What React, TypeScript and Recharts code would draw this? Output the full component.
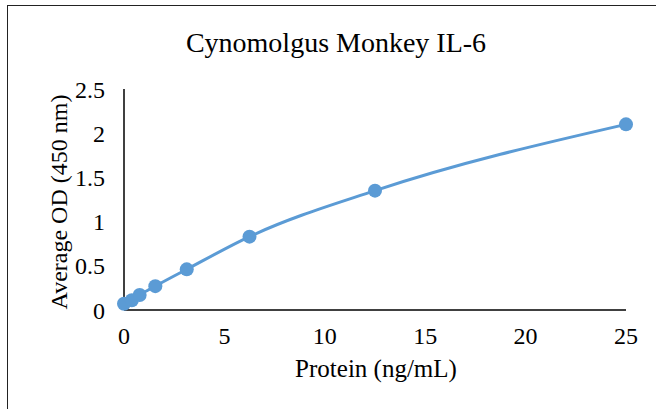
import React from 'react';
import { LineChart, Line, XAxis, YAxis } from 'recharts';

const proteinConc = [0, 0.39, 0.78, 1.56, 3.125, 6.25, 12.5, 25];
const avgOD = [0.07, 0.11, 0.17, 0.27, 0.46, 0.83, 1.35, 2.1];
const xTicks = [0, 5, 10, 15, 20, 25];
const yTicks = [0, 0.5, 1, 1.5, 2, 2.5];

const data = proteinConc.map((c, i) => ({ conc: c, od: avgOD[i] }));

const font = '"Liberation Serif", serif';
const blue = '#5B9BD5';

const App: React.FC = () => {
  return (
    <div style={{ position: 'absolute', left: 0, top: 0, width: 656, height: 409, background: '#fff', overflow: 'hidden' }}>
      {/* chart frame */}
      <div style={{ position: 'absolute', left: 7, top: 5, width: 700, height: 450, border: '1px solid #222', boxSizing: 'border-box' }} />
      <div style={{ position: 'absolute', left: 0, top: 0 }}>
        <LineChart width={656} height={409} data={data} margin={{ top: 89, right: 30, bottom: 69, left: 64 }}>
          <XAxis
            dataKey="conc"
            type="number"
            domain={[0, 25]}
            ticks={xTicks}
            axisLine={{ stroke: '#000', strokeWidth: 1.5 }}
            tickLine={false}
            tickMargin={11}
            height={30}
            tick={{ fill: '#000', fontSize: 24, fontFamily: font }}
          />
          <YAxis
            type="number"
            domain={[0, 2.5]}
            ticks={yTicks}
            width={60}
            axisLine={{ stroke: '#000', strokeWidth: 1.5 }}
            tickLine={false}
            tickMargin={13}
            tick={{ fill: '#000', fontSize: 24, fontFamily: font }}
          />
          <Line
            type="monotone"
            dataKey="od"
            stroke={blue}
            strokeWidth={3}
            dot={{ r: 7, fill: blue, stroke: blue, strokeWidth: 0 }}
            isAnimationActive={false}
          />
        </LineChart>
      </div>
      {/* title and axis titles */}
      <svg width={656} height={409} style={{ position: 'absolute', left: 0, top: 0, pointerEvents: 'none' }}>
        <text x={336} y={52} textAnchor="middle" fontSize={28} fontFamily={font} fill="#000">
          Cynomolgus Monkey IL-6
        </text>
        <text x={376} y={377} textAnchor="middle" fontSize={25} fontFamily={font} fill="#000">
          Protein (ng/mL)
        </text>
        <text x={67} y={202} textAnchor="middle" fontSize={24} fontFamily={font} fill="#000" transform="rotate(-90, 67, 202)">
          Average OD (450 nm)
        </text>
      </svg>
    </div>
  );
};

export default App;
